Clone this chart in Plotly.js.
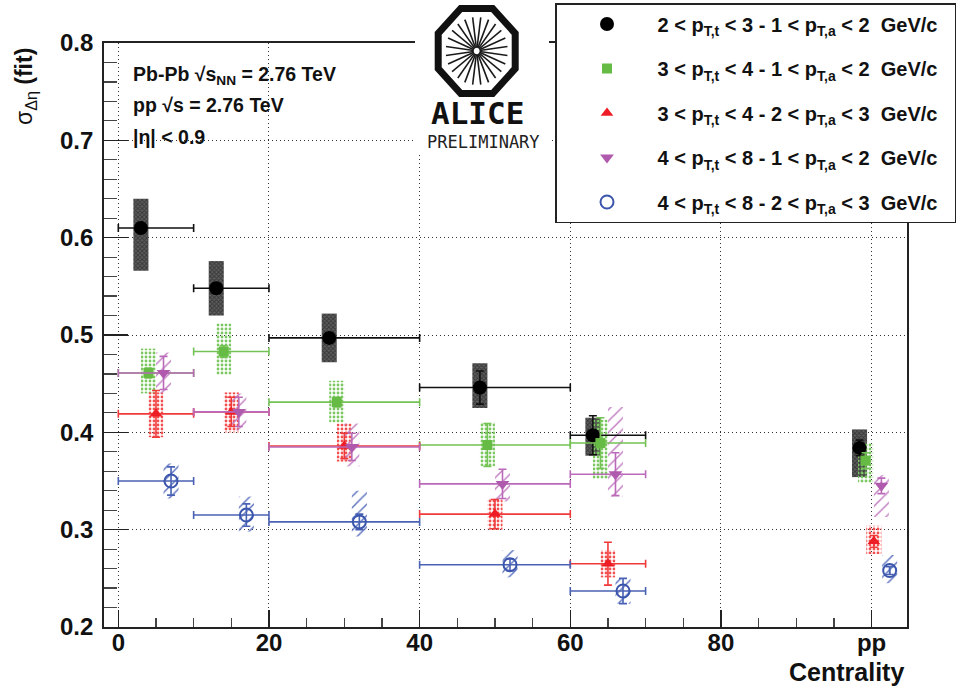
<!DOCTYPE html>
<html>
<head>
<meta charset="utf-8">
<script src="https://cdn.plot.ly/plotly-3.0.1.min.js"></script>
<style>
  html, body { margin: 0; padding: 0; background: #fff; }
  #chart { width: 961px; height: 688px; }
</style>
</head>
<body>
<div id="chart"></div>
<script>
// Centrality bins (pp stored as 100 with no bin width)
const binLow  = [0, 10, 20, 40, 60, null];
const binHigh = [10, 20, 40, 60, 70, null];

const xTickVals = [0, 20, 40, 60, 80, 100];
const xTickText = ['0', '20', '40', '60', '80', 'pp'];

const seriesNames = [
  '2 &lt; p<sub>T,t</sub> &lt; 3 - 1 &lt; p<sub>T,a</sub> &lt; 2&nbsp;&nbsp;GeV/c&nbsp;&nbsp;',
  '3 &lt; p<sub>T,t</sub> &lt; 4 - 1 &lt; p<sub>T,a</sub> &lt; 2&nbsp;&nbsp;GeV/c&nbsp;&nbsp;',
  '3 &lt; p<sub>T,t</sub> &lt; 4 - 2 &lt; p<sub>T,a</sub> &lt; 3&nbsp;&nbsp;GeV/c&nbsp;&nbsp;',
  '4 &lt; p<sub>T,t</sub> &lt; 8 - 1 &lt; p<sub>T,a</sub> &lt; 2&nbsp;&nbsp;GeV/c&nbsp;&nbsp;',
  '4 &lt; p<sub>T,t</sub> &lt; 8 - 2 &lt; p<sub>T,a</sub> &lt; 3&nbsp;&nbsp;GeV/c&nbsp;&nbsp;'
];

// 2 < pT,t < 3, 1 < pT,a < 2
const xA = [3, 13, 28, 48, 63, 98.4];
const yA = [0.610, 0.548, 0.497, 0.446, 0.397, 0.384];
const statA = [0.005, 0.005, 0.005, 0.017, 0.020, 0.008];
const sysUpA = [0.030, 0.028, 0.025, 0.025, 0.018, 0.019];
const sysDnA = [0.044, 0.028, 0.025, 0.021, 0.021, 0.030];

// 3 < pT,t < 4, 1 < pT,a < 2
const xB = [4, 14, 29, 49, 64, 99.2];
const yB = [0.461, 0.483, 0.431, 0.387, 0.389, 0.371];
const statB = [0.005, 0.006, 0.005, 0.022, 0.026, 0.008];
const sysUpB = [0.025, 0.029, 0.022, 0.023, 0.024, 0.018];
const sysDnB = [0.021, 0.024, 0.021, 0.022, 0.037, 0.023];

// 3 < pT,t < 4, 2 < pT,a < 3
const xC = [5, 15, 30, 50, 65, 100.3];
const yC = [0.419, 0.421, 0.386, 0.316, 0.265, 0.288];
const statC = [0.024, 0.015, 0.013, 0.015, 0.022, 0.006];
const sysUpC = [0.022, 0.020, 0.023, 0.016, 0.014, 0.016];
const sysDnC = [0.024, 0.021, 0.016, 0.016, 0.014, 0.013];

// 4 < pT,t < 8, 1 < pT,a < 2
const xD = [6, 16, 31, 51, 66, 101.3];
const yD = [0.461, 0.421, 0.385, 0.347, 0.357, 0.345];
const statD = [0.017, 0.015, 0.014, 0.015, 0.022, 0.008];
const sysUpD = [0.021, 0.019, 0.024, 0.014, 0.069, 0.011];
const sysDnD = [0.021, 0.019, 0.020, 0.018, 0.023, 0.032];

// 4 < pT,t < 8, 2 < pT,a < 3
const xE = [7, 17, 32, 52, 67, 102.4];
const yE = [0.350, 0.315, 0.308, 0.264, 0.237, 0.258];
const statE = [0.0145, 0.0115, 0.008, 0.006, 0.013, 0.004];
const sysUpE = [0.018, 0.019, 0.032, 0.015, 0.013, 0.016];
const sysDnE = [0.018, 0.017, 0.015, 0.013, 0.013, 0.013];

const W = 961, H = 688;
const M = { l: 104, r: 54, t: 43, b: 61, autoexpand: false };
const PW = W - M.l - M.r, PH = H - M.t - M.b;
const px = x => (x - M.l) / PW;
const py = y => 1 - (y - M.t) / PH;

const FONT = 'Liberation Sans, Arial, Helvetica, sans-serif';

const styles = [
  { color: '#000000', err: '#111111', symbol: 'circle', size: 14,
    box: { color: '#5e5e5e', pattern: { shape: 'x', fgcolor: '#111111', size: 3, solidity: 0.5, fillmode: 'overlay' } } },
  { color: '#66bb44', err: '#74c255', symbol: 'square', size: 10,
    box: { color: 'rgba(0,0,0,0)', pattern: { shape: '.', fgcolor: '#7cc860', bgcolor: 'rgba(0,0,0,0)', size: 4, solidity: 0.4, fillmode: 'replace' } } },
  { color: '#ee1c24', err: '#f03a3a', symbol: 'triangle-up', size: 11,
    box: { color: 'rgba(0,0,0,0)', pattern: { shape: '.', fgcolor: '#f25050', bgcolor: 'rgba(0,0,0,0)', size: 4, solidity: 0.4, fillmode: 'replace' } } },
  { color: '#b05aae', err: '#bb6ab9', symbol: 'triangle-down', size: 12,
    box: { color: 'rgba(0,0,0,0)', pattern: { shape: '/', fgcolor: '#c07cc0', bgcolor: 'rgba(0,0,0,0)', size: 8, solidity: 0.18, fillmode: 'replace' } } },
  { color: '#3b55ad', err: '#4a62b4', symbol: 'circle-open', size: 13,
    box: { color: 'rgba(0,0,0,0)', pattern: { shape: '/', fgcolor: '#5a70bc', bgcolor: 'rgba(0,0,0,0)', size: 8, solidity: 0.18, fillmode: 'replace' } } }
];

const series = [
  { x: xA, y: yA, stat: statA, up: sysUpA, dn: sysDnA },
  { x: xB, y: yB, stat: statB, up: sysUpB, dn: sysDnB },
  { x: xC, y: yC, stat: statC, up: sysUpC, dn: sysDnC },
  { x: xD, y: yD, stat: statD, up: sysUpD, dn: sysDnD },
  { x: xE, y: yE, stat: statE, up: sysUpE, dn: sysDnE }
];

const boxTraces = [];
const pointTraces = [];
series.forEach((s, i) => {
  const st = styles[i];
  // systematic uncertainty boxes
  boxTraces.push({
    type: 'bar', x: s.x,
    base: s.y.map((v, k) => v - s.dn[k]),
    y: s.up.map((u, k) => u + s.dn[k]),
    width: 2,
    marker: Object.assign({ line: { width: 0 } }, st.box),
    showlegend: false, hoverinfo: 'skip'
  });
  // points with statistical errors and centrality bin widths
  const xPlus = s.x.map((v, k) => binHigh[k] === null ? 0 : binHigh[k] - v);
  const xMinus = s.x.map((v, k) => binLow[k] === null ? 0 : v - binLow[k]);
  pointTraces.push({
    type: 'scatter', mode: 'markers', name: seriesNames[i],
    x: s.x, y: s.y, legendgroup: 'g' + i,
    marker: { symbol: st.symbol, size: st.size, color: st.color,
              line: { width: i === 4 ? 2 : 0, color: st.color } },
    error_y: { type: 'data', array: s.stat, color: st.err, thickness: 1.6, width: 4 },
    error_x: { type: 'data', symmetric: false, array: xPlus, arrayminus: xMinus,
               color: st.err, thickness: 1.6, width: 4 }
  });
});

// ALICE logo: octagon, spokes and lettering
const cx = 476.7, cy = 51;
function octagonPath(ax, ay) {
  const rx = ax / Math.cos(Math.PI / 8), ry = ay / Math.cos(Math.PI / 8);
  let d = '';
  for (let k = 0; k < 8; k++) {
    const a = Math.PI / 8 + k * Math.PI / 4;
    const X = px(cx + rx * Math.cos(a)), Y = py(cy + ry * Math.sin(a));
    d += (k === 0 ? 'M' : 'L') + X.toFixed(5) + ',' + Y.toFixed(5);
  }
  return d + 'Z';
}
const shapes = [
  { type: 'rect', xref: 'paper', yref: 'paper', layer: 'above',
    x0: px(415), x1: px(549), y0: py(152), y1: py(0),
    fillcolor: '#ffffff', line: { width: 0 } },
  { type: 'path', xref: 'paper', yref: 'paper', layer: 'above',
    path: octagonPath(38.5, 42.5), fillcolor: '#ffffff',
    line: { color: '#111111', width: 7 } }
];
for (let k = 0; k < 24; k++) {
  const a = k * Math.PI / 12 + Math.PI / 24;
  const r0 = 3, r1 = 31;
  const sy = 46 / 42;
  shapes.push({
    type: 'line', xref: 'paper', yref: 'paper', layer: 'above',
    x0: px(cx + r0 * Math.cos(a)), y0: py(cy + r0 * sy * Math.sin(a)),
    x1: px(cx + r1 * Math.cos(a)), y1: py(cy + r1 * sy * Math.sin(a)),
    line: { color: '#1a1a1a', width: 1.6 }
  });
}

const annotations = [
  { text: 'Pb-Pb √s<sub>NN</sub> = 2.76 TeV', x: px(131), y: py(75) },
  { text: 'pp √s = 2.76 TeV', x: px(131), y: py(105) },
  { text: '|η| &lt; 0.9', x: px(131), y: py(137) }
].map(a => Object.assign({
  xref: 'paper', yref: 'paper', xanchor: 'left', yanchor: 'middle', showarrow: false,
  font: { family: FONT, size: 19.5, color: '#111', weight: 'bold' }
}, a));

annotations.push(
  { xref: 'paper', yref: 'paper', x: px(906), y: py(672), xanchor: 'right', yanchor: 'middle',
    showarrow: false, text: 'Centrality',
    font: { family: FONT, size: 25, color: '#111', weight: 'bold' } },
  { xref: 'paper', yref: 'paper', x: px(26), y: py(87), xanchor: 'center', yanchor: 'middle',
    showarrow: false, textangle: -90,
    text: 'σ<sub>Δη</sub> <b>(fit)</b>',
    font: { family: FONT, size: 23, color: '#111' } },
  { xref: 'paper', yref: 'paper', x: px(477), y: py(113), xanchor: 'center', yanchor: 'middle',
    showarrow: false, text: 'ALICE',
    font: { family: 'DejaVu Sans Mono, monospace', size: 31, color: '#111', weight: 'bold' } },
  { xref: 'paper', yref: 'paper', x: px(483), y: py(142), xanchor: 'center', yanchor: 'middle',
    showarrow: false, text: 'PRELIMINARY',
    font: { family: 'DejaVu Sans Mono, monospace', size: 17, color: '#222' } }
);

const layout = {
  width: W, height: H,
  margin: M,
  paper_bgcolor: '#ffffff', plot_bgcolor: '#ffffff',
  barmode: 'overlay',
  showlegend: true,
  legend: {
    x: px(555), y: py(3), xanchor: 'left', yanchor: 'top',
    bgcolor: '#ffffff', bordercolor: '#222222', borderwidth: 1.5,
    font: { family: FONT, size: 20, color: '#111', weight: 'bold' },
    tracegroupgap: 15.5, itemwidth: 91, traceorder: 'grouped'
  },
  xaxis: {
    range: [-1.9, 104.7],
    tickmode: 'array', tickvals: xTickVals, ticktext: xTickText,
    ticks: 'inside', ticklen: 17, tickwidth: 1.5, tickcolor: '#222',
    minor: { tickmode: 'linear', tick0: 0, dtick: 5, ticks: 'inside', ticklen: 9, tickwidth: 1.2, tickcolor: '#444', showgrid: false },
    showline: true, mirror: true, linecolor: '#222', linewidth: 1.8,
    showgrid: true, gridcolor: '#333', gridwidth: 1, griddash: '1px,3px',
    zeroline: false,
    tickfont: { family: FONT, size: 24, color: '#111', weight: 'bold' },
    ticklabelstandoff: -7
  },
  yaxis: {
    range: [0.2, 0.8],
    tickmode: 'linear', tick0: 0.2, dtick: 0.1, tickformat: '.1f',
    ticks: 'inside', ticklen: 24, tickwidth: 1.5, tickcolor: '#222',
    minor: { tickmode: 'linear', tick0: 0.2, dtick: 0.02, ticks: 'inside', ticklen: 13, tickwidth: 1.2, tickcolor: '#444', showgrid: false },
    showline: true, mirror: true, linecolor: '#222', linewidth: 1.8,
    showgrid: true, gridcolor: '#333', gridwidth: 1, griddash: '1px,3px',
    zeroline: false,
    tickfont: { family: FONT, size: 24, color: '#111', weight: 'bold' },
    ticklabelstandoff: 4
  },
  shapes: shapes,
  annotations: annotations
};

Plotly.newPlot('chart', boxTraces.concat(pointTraces), layout, { staticPlot: true, displayModeBar: false });
</script>
</body>
</html>
